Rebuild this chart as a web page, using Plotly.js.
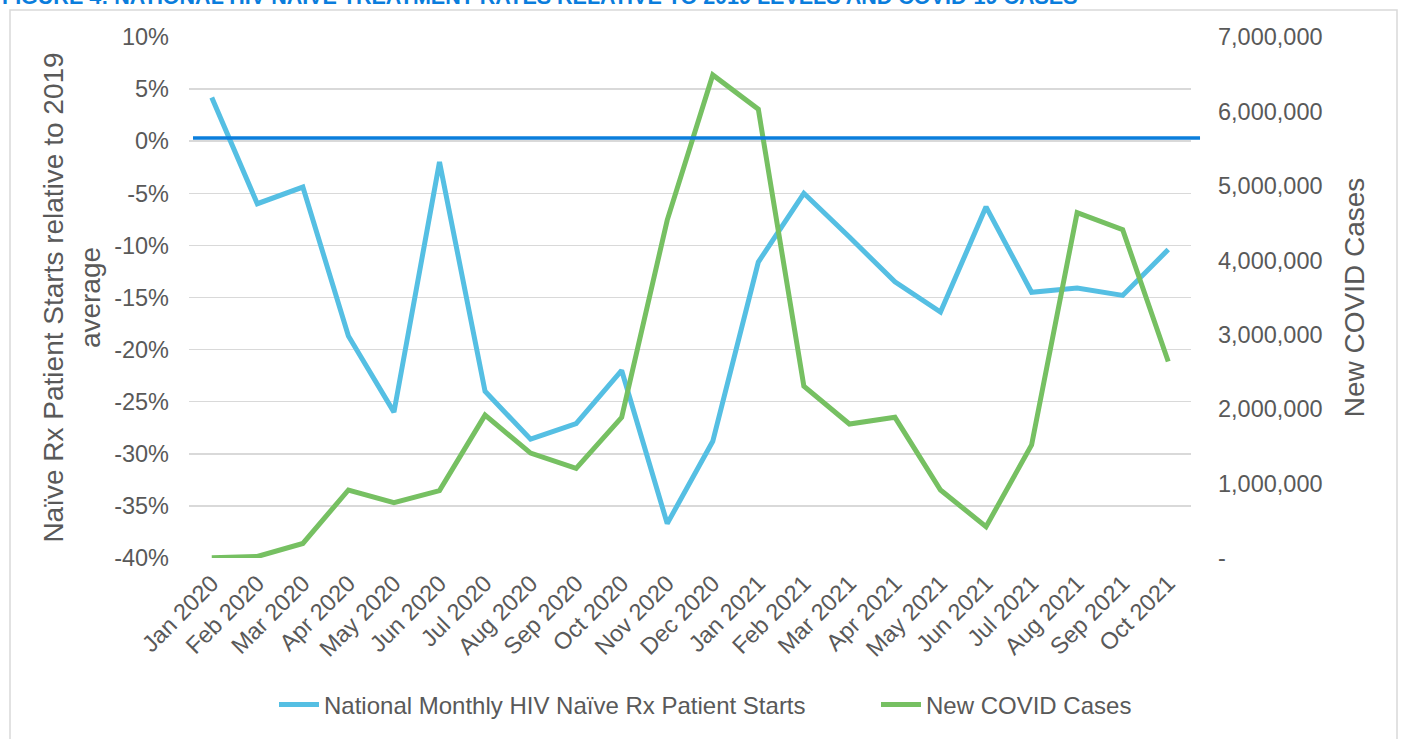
<!DOCTYPE html>
<html>
<head>
<meta charset="utf-8">
<script src="https://cdn.plot.ly/plotly-3.0.1.min.js"></script>
<style>html,body{margin:0;padding:0;background:#fff;}#chart{width:1404px;height:739px;}</style>
</head>
<body>
<div id="chart"></div>
<script>
const months = ["Jan 2020","Feb 2020","Mar 2020","Apr 2020","May 2020","Jun 2020","Jul 2020","Aug 2020","Sep 2020","Oct 2020","Nov 2020","Dec 2020","Jan 2021","Feb 2021","Mar 2021","Apr 2021","May 2021","Jun 2021","Jul 2021","Aug 2021","Sep 2021","Oct 2021"];
const hivStarts = [4.2,-6.0,-4.4,-18.7,-26.0,-2.0,-24.0,-28.6,-27.1,-22.0,-36.7,-28.8,-11.6,-5.0,-9.2,-13.5,-16.4,-6.3,-14.5,-14.1,-14.8,-10.4];
const covidCases = [5000,20000,195000,914000,743000,905000,1920000,1410000,1205000,1890000,4540000,6490000,6030000,2310000,1800000,1890000,914000,420000,1520000,4640000,4410000,2640000];
const baseline = 0.3;
const leftTickVals = [10,5,0,-5,-10,-15,-20,-25,-30,-35,-40];
const leftTickText = ["10%","5%","0%","-5%","-10%","-15%","-20%","-25%","-30%","-35%","-40%"];
const rightTickVals = [0,1000000,2000000,3000000,4000000,5000000,6000000,7000000];
const rightTickText = ["-","1,000,000","2,000,000","3,000,000","4,000,000","5,000,000","6,000,000","7,000,000"];
const titleText = "FIGURE 4: NATIONAL HIV NAÏVE TREATMENT RATES RELATIVE TO 2019 LEVELS AND COVID-19 CASES";

const font = "Liberation Sans, Arial, sans-serif";
const grey = "#595959";
const idx = months.map((m,i)=>i);
const tickSize = 23.5;

const traces = [
  {x: idx, y: hivStarts, type:"scatter", mode:"lines", name:"National Monthly HIV Naïve Rx Patient Starts",
   line:{color:"#55BFE3", width:5}, yaxis:"y", legend:"legend"},
  {x: idx, y: covidCases, type:"scatter", mode:"lines", name:"New COVID Cases",
   line:{color:"#76C062", width:5}, yaxis:"y2", legend:"legend2"}
];

const legendBase = {orientation:"h", xanchor:"left", y:-0.282, yanchor:"middle",
                    font:{family:font, size:24, color:grey}, itemwidth:40, bgcolor:"rgba(0,0,0,0)"};

const layout = {
  width:1404, height:739,
  margin:{l:189, r:213, t:37, b:181},
  paper_bgcolor:"#fff", plot_bgcolor:"#fff",
  font:{family:font, color:grey, size:tickSize},
  showlegend:true,
  legend: Object.assign({}, legendBase, {x:(274-189)/1002}),
  legend2: Object.assign({}, legendBase, {x:(876-189)/1002}),
  xaxis:{range:[-0.5, 21.5], tickvals: idx, ticktext: months, tickangle:-45,
         showgrid:false, zeroline:false, showline:false, ticks:"", ticklabelstandoff:6,
         tickfont:{family:font, size:tickSize, color:grey}, fixedrange:true},
  yaxis:{range:[-40,10], tickvals:leftTickVals, ticktext:leftTickText,
         showgrid:true, gridcolor:"#D9D9D9", gridwidth:1.5, zeroline:false, showline:false, ticks:"",
         ticklabelstandoff:19,
         tickfont:{family:font, size:tickSize, color:grey},
         title:{text:"Naïve Rx Patient Starts relative to 2019<br>average", standoff:5,
                font:{family:font, size:28, color:grey}}},
  yaxis2:{range:[0,7000000], overlaying:"y", side:"right", tickvals:rightTickVals, ticktext:rightTickText,
          showgrid:false, zeroline:false, showline:false, ticks:"", ticklabelstandoff:26,
          tickfont:{family:font, size:tickSize, color:grey},
          title:{text:"New COVID Cases", standoff:22, font:{family:font, size:28, color:grey}}},
  shapes:[
    {type:"line", xref:"paper", yref:"y", x0:0.004, x1:1.009, y0:baseline, y1:baseline,
     line:{color:"#0B7EDC", width:3.5}},
    {type:"rect", xref:"paper", yref:"paper", x0:(10-189)/1002, x1:(1397-189)/1002,
     y0:-0.4, y1:(558-10)/521, line:{color:"#D9D9D9", width:1.5}, fillcolor:"rgba(0,0,0,0)", layer:"below"}
  ],
  annotations:[
    {text:"<b>"+titleText+"</b>", xref:"paper", yref:"paper", x:(0-189)/1002, xanchor:"left",
     y:(558+3)/521, yanchor:"middle", showarrow:false, font:{family:font, size:21.5, color:"#0A7DDC"}}
  ]
};

Plotly.newPlot("chart", traces, layout, {displayModeBar:false, staticPlot:true});
</script>
</body>
</html>
